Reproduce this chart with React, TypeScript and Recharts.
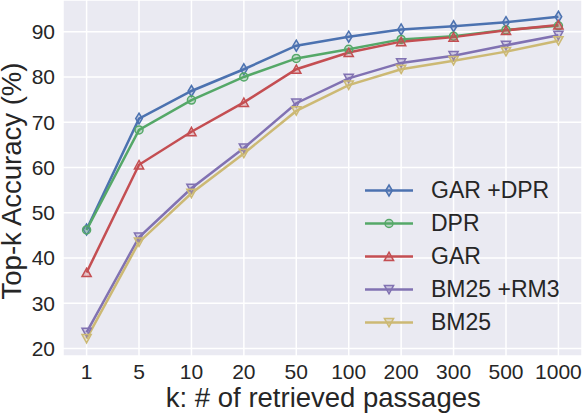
import React from 'react';
import { LineChart, Line, XAxis, YAxis, CartesianGrid } from 'recharts';

const categories = ['1', '5', '10', '20', '50', '100', '200', '300', '500', '1000'];
const garDpr = [46.3, 70.8, 76.9, 81.7, 86.9, 88.9, 90.5, 91.2, 92.1, 93.3];
const dpr = [46.2, 68.3, 74.9, 80.0, 84.1, 86.1, 88.3, 89.0, 90.4, 91.3];
const gar = [36.8, 60.6, 67.9, 74.4, 81.7, 85.4, 87.8, 88.8, 90.3, 91.5];
const bm25rm3 = [23.6, 44.6, 55.4, 64.3, 74.2, 79.7, 83.1, 84.7, 87.0, 89.2];
const bm25 = [22.2, 43.5, 54.3, 63.1, 72.5, 78.2, 81.7, 83.6, 85.6, 88.0];
const yTicks = [20, 30, 40, 50, 60, 70, 80, 90];

const seriesDefs = [
  { key: 'garDpr', name: 'GAR +DPR', color: '#4C72B0', shape: 'diamond', values: garDpr },
  { key: 'dpr', name: 'DPR', color: '#55A868', shape: 'circle', values: dpr },
  { key: 'gar', name: 'GAR', color: '#C44E52', shape: 'up', values: gar },
  { key: 'bm25rm3', name: 'BM25 +RM3', color: '#8172B2', shape: 'down', values: bm25rm3 },
  { key: 'bm25', name: 'BM25', color: '#CCB974', shape: 'down', values: bm25 },
];

const data = categories.map((c, i) => {
  const row: any = { idx: i, label: c };
  seriesDefs.forEach((s) => {
    row[s.key] = s.values[i];
  });
  return row;
});

const FONT = '"Liberation Sans", Arial, Helvetica, sans-serif';
const TEXT = '#262626';

function markerPath(shape: string, cx: number, cy: number) {
  switch (shape) {
    case 'diamond':
      return `M${cx},${cy - 5.5}L${cx + 3.3},${cy}L${cx},${cy + 5.5}L${cx - 3.3},${cy}Z`;
    case 'up':
      return `M${cx},${cy - 4.3}L${cx + 4.6},${cy + 4.1}L${cx - 4.6},${cy + 4.1}Z`;
    case 'down':
      return `M${cx},${cy + 4.3}L${cx + 4.6},${cy - 4.1}L${cx - 4.6},${cy - 4.1}Z`;
    default:
      return `M${cx - 4},${cy}a4,4 0 1,0 8,0a4,4 0 1,0 -8,0Z`;
  }
}

function Marker({ shape, color, cx, cy }: any) {
  return (
    <path
      d={markerPath(shape, cx, cy)}
      fill={color}
      fillOpacity={0.3}
      stroke={color}
      strokeWidth={1.5}
    />
  );
}

const makeDot = (shape: string, color: string) => (props: any) => {
  const { cx, cy, index } = props;
  if (cx == null || cy == null) return <g key={`e-${index}`} />;
  return (
    <g key={`${shape}-${color}-${index}`}>
      <Marker shape={shape} color={color} cx={cx} cy={cy} />
    </g>
  );
};

const LegendBox = () => (
  <div style={{ position: 'absolute', left: 360, top: 173.5, width: 220, fontFamily: FONT }}>
    {seriesDefs.map((s) => (
      <div key={s.key} style={{ display: 'flex', alignItems: 'center', height: 33 }}>
        <svg width={71} height={33} style={{ display: 'block', flex: 'none' }}>
          <line x1={5} x2={53} y1={16.5} y2={16.5} stroke={s.color} strokeWidth={2.5} />
          <Marker shape={s.shape} color={s.color} cx={29} cy={16.5} />
        </svg>
        <span style={{ fontSize: 23, color: TEXT, lineHeight: '33px', whiteSpace: 'nowrap' }}>{s.name}</span>
      </div>
    ))}
  </div>
);

const XLabel = () => (
  <text x={323.3} y={407.3} textAnchor="middle" fontSize={27.5} fill={TEXT} fontFamily={FONT}>
    k: # of retrieved passages
  </text>
);

const YLabel = () => (
  <text
    x={21}
    y={181}
    transform="rotate(-90 21 181)"
    textAnchor="middle"
    fontSize={27.5}
    fill={TEXT}
    fontFamily={FONT}
  >
    Top-k Accuracy (%)
  </text>
);

export default function App() {
  return (
    <div style={{ position: 'absolute', left: 0, top: 0, width: 582, height: 414 }}>
      <LineChart
        width={582}
        height={414}
        data={data}
        margin={{ top: 0, right: 0, left: 0, bottom: 0 }}
        style={{ fontFamily: FONT }}
      >
        <CartesianGrid fill="#EAEAF2" stroke="#FFFFFF" strokeWidth={1.5} />
        <XAxis
          dataKey="idx"
          type="number"
          domain={[-0.45, 9.45]}
          ticks={[0, 1, 2, 3, 4, 5, 6, 7, 8, 9]}
          tickFormatter={(v: number) => categories[v]}
          allowDataOverflow
          height={58}
          axisLine={false}
          tickLine={false}
          tickSize={6}
          tickMargin={2.4}
          tick={{ fontSize: 21, fill: TEXT, fontFamily: FONT }}
          interval={0}
          label={{ content: XLabel }}
        />
        <YAxis
          type="number"
          domain={[18.36, 97.0]}
          ticks={yTicks}
          allowDataOverflow
          width={63}
          axisLine={false}
          tickLine={false}
          tickSize={6}
          tickMargin={2}
          tick={{ fontSize: 21, fill: TEXT, fontFamily: FONT }}
          interval={0}
          label={{ content: YLabel }}
        />
        {seriesDefs.map((s) => (
          <Line
            key={s.key}
            dataKey={s.key}
            name={s.name}
            stroke={s.color}
            strokeWidth={2.5}
            dot={makeDot(s.shape, s.color)}
            activeDot={false}
            isAnimationActive={false}
          />
        ))}
      </LineChart>
      <LegendBox />
    </div>
  );
}
